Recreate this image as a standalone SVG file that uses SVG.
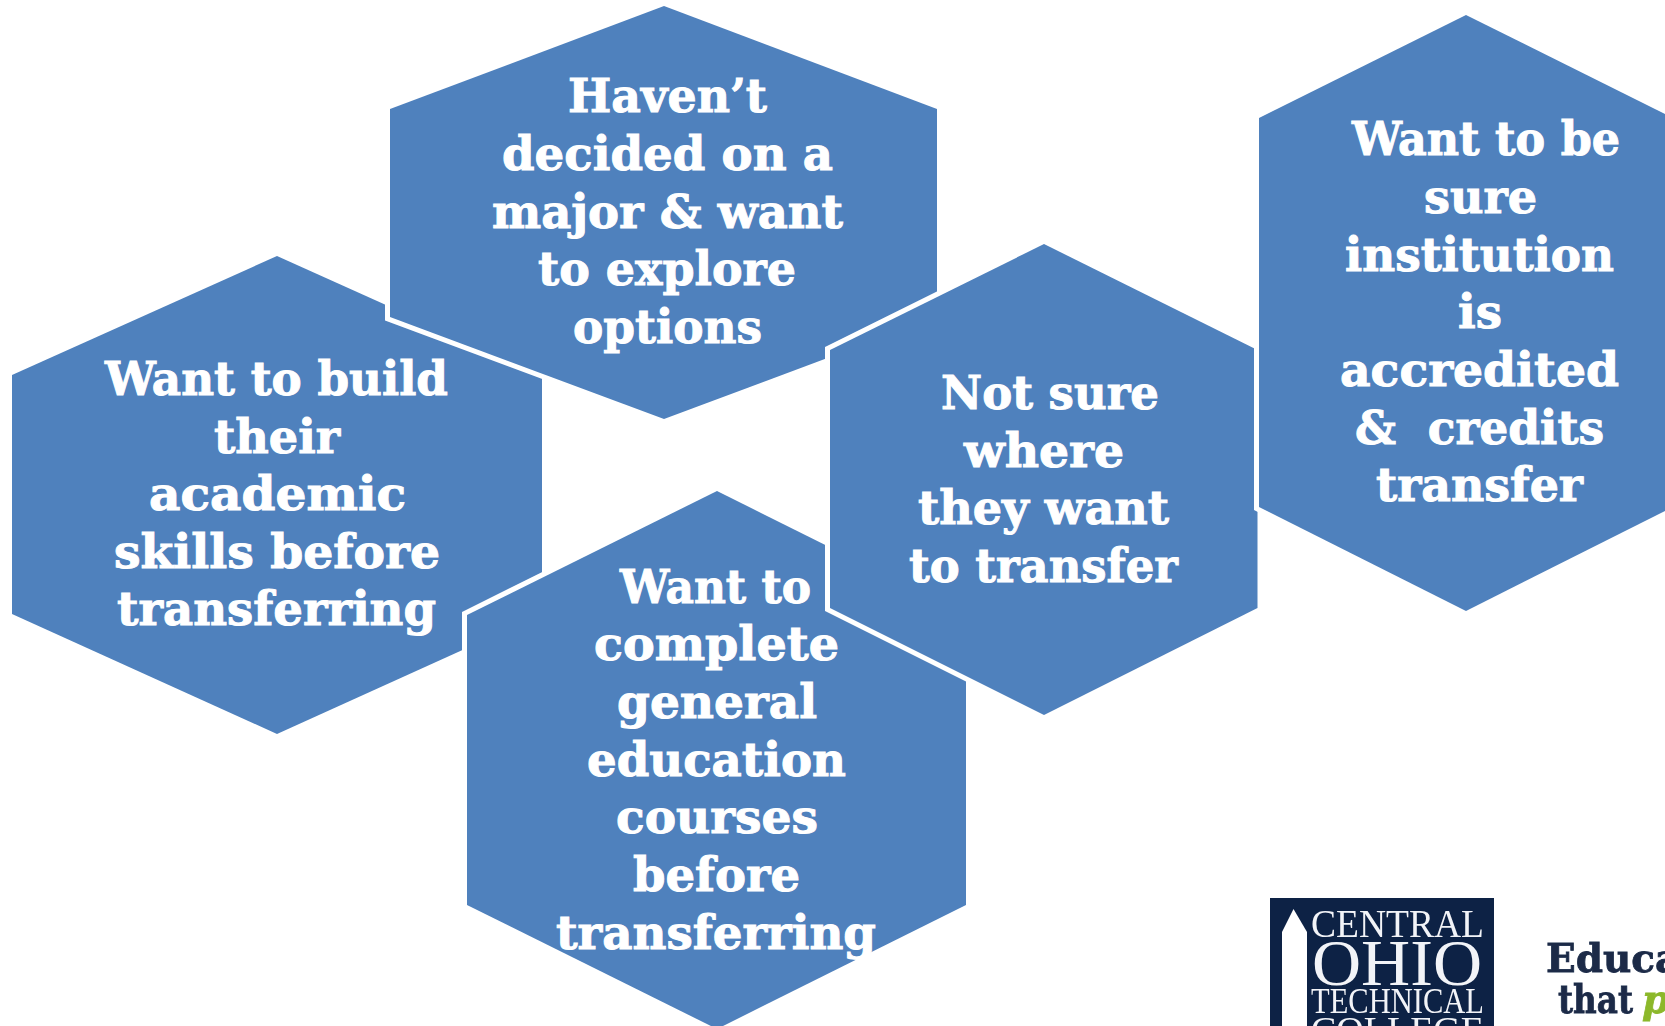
<svg xmlns="http://www.w3.org/2000/svg" width="1665" height="1026" viewBox="0 0 1665 1026">
<defs><filter id="soft" x="0" y="0" width="1" height="1"><feGaussianBlur stdDeviation="0.5"/></filter></defs>
<style>
.hex{fill:#4f81bd;stroke:#fff;stroke-width:10;paint-order:stroke;stroke-linejoin:miter}
.t{font-family:"DejaVu Serif",serif;font-weight:700;font-size:47px;fill:#fff;stroke:#fff;stroke-width:1}
.c{font-family:"Liberation Serif",serif;fill:#f2f4f8}
.e{font-family:"DejaVu Serif",serif;font-weight:700;font-size:39px;fill:#1b2a47;stroke:#1b2a47;stroke-width:.8}
</style>
<rect width="1665" height="1026" fill="#fff"/>
<g id="hex-academic">
<polygon class="hex" points="277,256 542,375 542,614 277,734 12,614 12,375"/>
<text class="t" x="105" y="395" textLength="343" lengthAdjust="spacingAndGlyphs">Want to build</text>
<text class="t" x="214" y="453" textLength="126" lengthAdjust="spacingAndGlyphs">their</text>
<text class="t" x="149" y="510" textLength="257" lengthAdjust="spacingAndGlyphs">academic</text>
<text class="t" x="114" y="568" textLength="326" lengthAdjust="spacingAndGlyphs">skills before</text>
<text class="t" x="117" y="625" textLength="319" lengthAdjust="spacingAndGlyphs">transferring</text>
</g>
<g id="hex-major">
<polygon class="hex" points="664,6 937,109 937,317 664,419 390,317 390,109"/>
<text class="t" x="568" y="112" textLength="199" lengthAdjust="spacingAndGlyphs">Haven’t</text>
<text class="t" x="502" y="170" textLength="331" lengthAdjust="spacingAndGlyphs">decided on a</text>
<text class="t" x="492" y="228" textLength="351" lengthAdjust="spacingAndGlyphs">major &amp; want</text>
<text class="t" x="538" y="285" textLength="258" lengthAdjust="spacingAndGlyphs">to explore</text>
<text class="t" x="573" y="343" textLength="189" lengthAdjust="spacingAndGlyphs">options</text>
</g>
<g id="hex-gened">
<polygon class="hex" points="717,491 966,615 966,905 717,1029 467,905 467,615"/>
<text class="t" x="620" y="603" textLength="191" lengthAdjust="spacingAndGlyphs">Want to</text>
<text class="t" x="594" y="660" textLength="245" lengthAdjust="spacingAndGlyphs">complete</text>
<text class="t" x="617" y="718" textLength="200" lengthAdjust="spacingAndGlyphs">general</text>
<text class="t" x="587" y="776" textLength="259" lengthAdjust="spacingAndGlyphs">education</text>
<text class="t" x="616" y="833" textLength="202" lengthAdjust="spacingAndGlyphs">courses</text>
<text class="t" x="633" y="891" textLength="167" lengthAdjust="spacingAndGlyphs">before</text>
<text class="t" x="556" y="949" textLength="320" lengthAdjust="spacingAndGlyphs">transferring</text>
</g>
<g id="hex-where">
<polygon class="hex" points="1044,244 1257.5,350 1257.5,608 1044,715 830,608 830,350"/>
<text class="t" x="941" y="409" textLength="218" lengthAdjust="spacingAndGlyphs">Not sure</text>
<text class="t" x="964" y="467" textLength="160" lengthAdjust="spacingAndGlyphs">where</text>
<text class="t" x="918" y="524" textLength="251" lengthAdjust="spacingAndGlyphs">they want</text>
<text class="t" x="909" y="582" textLength="269" lengthAdjust="spacingAndGlyphs">to transfer</text>
</g>
<g id="hex-accredited">
<polygon class="hex" points="1466,15 1673,118 1673,507 1466,611 1259,507 1259,118"/>
<text class="t" x="1352" y="155" textLength="268" lengthAdjust="spacingAndGlyphs">Want to be</text>
<text class="t" x="1424" y="213" textLength="113" lengthAdjust="spacingAndGlyphs">sure</text>
<text class="t" x="1345" y="271" textLength="269" lengthAdjust="spacingAndGlyphs">institution</text>
<text class="t" x="1458" y="328" textLength="44" lengthAdjust="spacingAndGlyphs">is</text>
<text class="t" x="1340" y="386" textLength="279" lengthAdjust="spacingAndGlyphs">accredited</text>
<text class="t" x="1355" y="444" textLength="249" lengthAdjust="spacingAndGlyphs">&amp;&#160; credits</text>
<text class="t" x="1376" y="501" textLength="207" lengthAdjust="spacingAndGlyphs">transfer</text>
</g>
<g id="logo-cotc" filter="url(#soft)">
<rect x="1270" y="898" width="224" height="128" fill="#0d2144"/>
<polygon points="1293.5,909 1307,932 1307,1026 1282,1026 1282,932" fill="#fff"/>
<text class="c" x="1311" y="937" font-size="39" textLength="173" lengthAdjust="spacingAndGlyphs">CENTRAL</text>
<text class="c" x="1312" y="985" font-size="66" textLength="170" lengthAdjust="spacingAndGlyphs">OHIO</text>
<text class="c" x="1311" y="1013" font-size="36" textLength="173" lengthAdjust="spacingAndGlyphs">TECHNICAL</text>
<text class="c" x="1311" y="1042" font-size="36" textLength="173" lengthAdjust="spacingAndGlyphs">COLLEGE</text>
</g>
<g id="logo-tagline" filter="url(#soft)">
<text class="e" x="1546" y="972">Educa</text>
<text class="e" x="1558" y="1013" textLength="75" lengthAdjust="spacingAndGlyphs">that</text>
<text class="e" x="1642" y="1013" font-style="italic" style="fill:#8cb82b;stroke:#8cb82b">p</text>
</g>
</svg>
